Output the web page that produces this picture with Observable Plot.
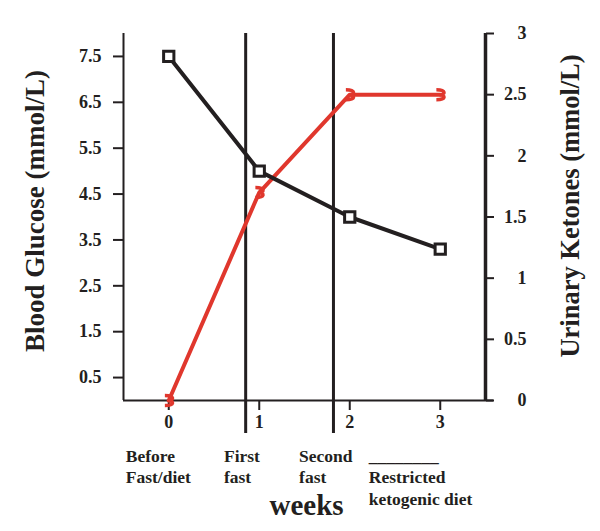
<!DOCTYPE html>
<html>
<head>
<meta charset="utf-8">
<script src="https://cdn.jsdelivr.net/npm/d3@7"></script>
<script src="https://cdn.jsdelivr.net/npm/@observablehq/plot@0.6"></script>
<style>
  html, body { margin: 0; padding: 0; background: #fff; }
</style>
</head>
<body>
<div id="chart"></div>
<script>
// ---- data ----
const weeks = [0, 1, 2, 3];
const bloodGlucose = [7.5, 5.0, 4.0, 3.3];          // mmol/L (left axis)
const urinaryKetones = [0, 1.7, 2.5, 2.5];          // mmol/L (right axis)
const glucoseTicks = [0.5, 1.5, 2.5, 3.5, 4.5, 5.5, 6.5, 7.5];
const ketoneTicks = [0, 0.5, 1, 1.5, 2, 2.5, 3];
const weekTicks = [0, 1, 2, 3];
const phaseBoundaries = [0.85, 1.82];
const phaseLabels = ["Before\nFast/diet", "First\nfast", "Second\nfast", "________\nRestricted\nketogenic diet"];

// ---- layout (not data) ----
const phaseLabelX = [-0.475, 0.61, 1.44, 2.21];
const gMax = 8, kMax = 3, k2g = gMax / kMax;
const font = "'Liberation Serif', 'Times New Roman', serif";
const ink = "#231f20";
const red = "#e0372d";
const tickFont = 18;

const glucoseRows = weeks.map((w, i) => ({week: w, value: bloodGlucose[i]}));
const ketoneRows = weeks.map((w, i) => ({week: w, value: urinaryKetones[i] * k2g}));
const phaseRows = phaseLabels.map((t, i) => ({x: phaseLabelX[i], text: t}));

const squiggle = {
  draw(ctx, size) {
    const s = Math.sqrt(size) / 3.2;
    ctx.moveTo(-1.0 * s, -1.3 * s);
    ctx.bezierCurveTo(1.6 * s, -1.3 * s, 1.4 * s, 0.1 * s, -0.2 * s, 0);
    ctx.bezierCurveTo(1.4 * s, 0.1 * s, 1.6 * s, 1.3 * s, -1.0 * s, 1.3 * s);
  }
};

const chart = Plot.plot({
  width: 600,
  height: 531,
  marginTop: 33,
  marginBottom: 131,
  marginLeft: 123,
  marginRight: 115,
  style: {fontFamily: font, fontWeight: "bold", background: "#fff", color: ink, overflow: "visible"},
  x: {domain: [-0.5, 3.5], axis: null},
  y: {domain: [0, gMax], axis: null},
  marks: [
    // axes lines
    Plot.ruleX([-0.5], {y1: 0, y2: gMax, stroke: ink, strokeWidth: 2, clip: false}),
    Plot.ruleX([3.5], {y1: 0, y2: gMax, stroke: ink, strokeWidth: 3.5, clip: false}),
    Plot.ruleY([0], {x1: -0.5, x2: 3.59, stroke: ink, strokeWidth: 2, clip: false}),
    // tick marks
    Plot.axisY({anchor: "left", ticks: glucoseTicks, tickFormat: () => "", tickSize: 10, stroke: ink, strokeWidth: 2, label: null}),
    Plot.axisY({anchor: "right", ticks: ketoneTicks.map(k => k * k2g), tickFormat: () => "", tickSize: 8, stroke: ink, strokeWidth: 2, label: null}),
    Plot.axisX({ticks: weekTicks, tickFormat: () => "", tickSize: 10, stroke: ink, strokeWidth: 2, label: null}),
    // tick labels
    Plot.text(glucoseTicks, {y: d => d, text: d => d.toFixed(1), frameAnchor: "left", dx: -22, textAnchor: "end", fontSize: tickFont, fontWeight: "bold", fill: ink}),
    Plot.text(ketoneTicks, {y: d => d * k2g, text: d => String(d), frameAnchor: "right", dx: 41, textAnchor: "end", fontSize: tickFont, fontWeight: "bold", fill: ink}),
    Plot.text(weekTicks, {x: d => d, text: d => String(d), frameAnchor: "bottom", dy: 27, fontSize: tickFont, fontWeight: "bold", fill: ink}),
    // phase boundaries
    Plot.ruleX(phaseBoundaries, {y1: gMax, y2: -0.72, stroke: ink, strokeWidth: 3, clip: false}),
    // series
    Plot.line(ketoneRows, {x: "week", y: "value", stroke: red, strokeWidth: 4}),
    Plot.dot(ketoneRows, {x: "week", y: "value", symbol: squiggle, r: 7, stroke: red, strokeWidth: 3.5, fill: "none"}),
    Plot.line(glucoseRows, {x: "week", y: "value", stroke: ink, strokeWidth: 4}),
    Plot.dot(glucoseRows, {x: "week", y: "value", symbol: "square", r: 5.8, stroke: ink, strokeWidth: 3, fill: "#fff"}),
    // phase labels
    Plot.text(phaseRows, {
      x: "x", text: "text", frameAnchor: "bottom", dy: 45.5, lineAnchor: "top",
      textAnchor: "start", lineHeight: 1.25, fontSize: 17.5, fontWeight: "bold", fill: ink, clip: false
    }),
    // titles
    Plot.text(["weeks"], {frameAnchor: "bottom", dy: 105, dx: 2, fontSize: 29, fontWeight: "bold", fill: ink, lineAnchor: "middle"}),
    Plot.text(["Blood Glucose (mmol/L)"], {frameAnchor: "left", dx: -88, dy: -6, rotate: -90, textAnchor: "middle", fontSize: 27, fontWeight: "bold", fill: ink}),
    Plot.text(["Urinary Ketones (mmol/L)"], {frameAnchor: "right", dx: 85, dy: -11, rotate: -90, textAnchor: "middle", fontSize: 26.5, fontWeight: "bold", fill: ink})
  ]
});
document.getElementById("chart").appendChild(chart);
</script>
</body>
</html>
